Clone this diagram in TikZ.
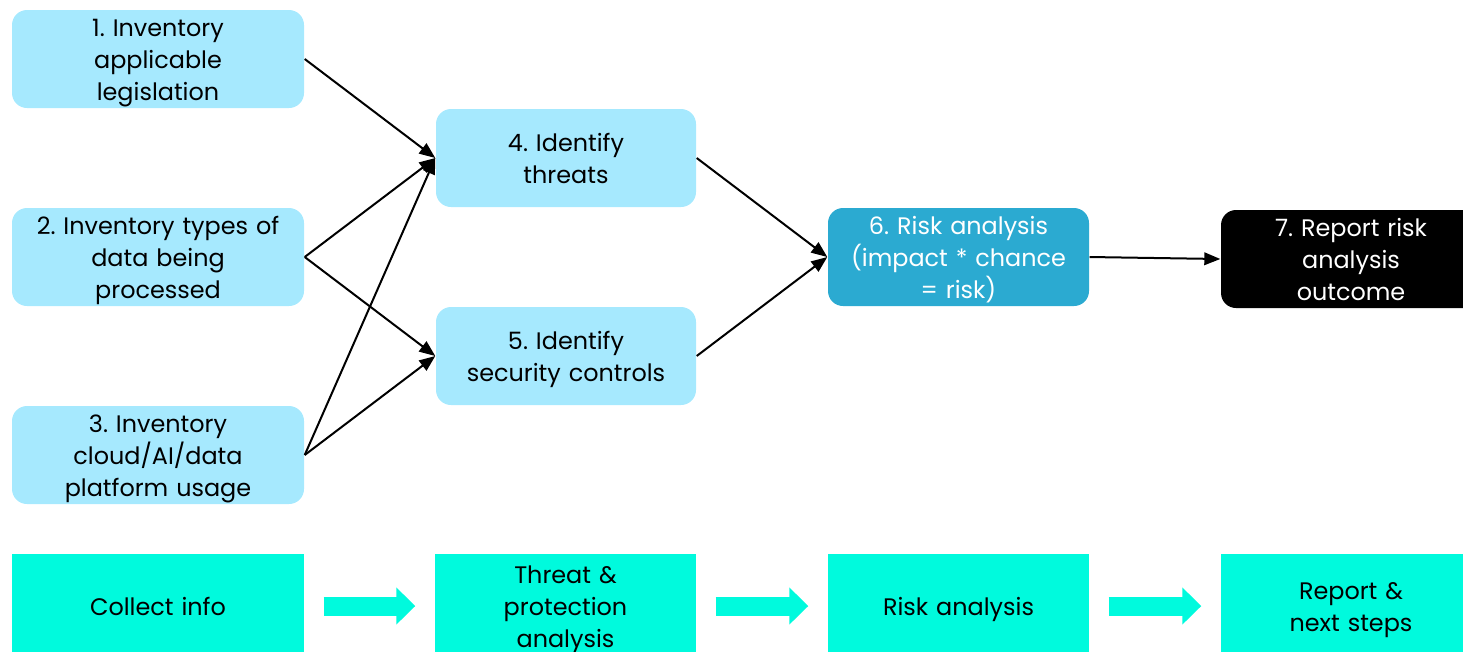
\documentclass[tikz,border=0pt]{standalone}
\usepackage{fontspec}
\setmainfont{Poppins}
\usepackage{tikz}
\usetikzlibrary{arrows.meta,positioning,calc}
\usepackage{xcolor}
\definecolor{skyfill}{HTML}{A6E9FE}
\definecolor{riskfill}{HTML}{2BAAD1}
\definecolor{phasefill}{HTML}{00FADD}

\begin{document}
\begin{tikzpicture}[x=0.1mm,y=-0.1mm,
  boxtext/.style={align=center,text width=25mm,inner sep=0pt,font=\fontsize{6.8}{9.1}\selectfont\frenchspacing,
    execute at begin node={\rule{0pt}{7.4pt}},execute at end node={\rule[-2pt]{0pt}{0pt}}},
  task/.style={boxtext,fill=skyfill,rounded corners=1.5mm,minimum height=9.8mm},
  wide/.style={minimum width=29.2mm,text width=28mm},
  phase/.style={boxtext,fill=phasefill,minimum height=10.4mm},
  flow/.style={-{Triangle[length=1.6mm,width=1.25mm]},line width=0.2mm,black},
  bigarrow/.style={-{Triangle[length=1.9mm,width=3.6mm]},line width=1.9mm,phasefill,shorten <=1.9mm,shorten >=1.9mm}
]
  \useasboundingbox (0,0) rectangle (1463,651);
  \node[task,wide] (inventorylaw) at (158,59) {1. Inventory\\applicable\\legislation};
  \node[task,wide] (inventorydata) at (158,257) {2. Inventory types of\\data being\\processed};
  \node[task,wide] (inventorycloud) at (158,455) {3. Inventory\\cloud/AI/data\\platform usage};
  \node[task,minimum width=26mm] (threats) at (566,158) {4. Identify\\threats};
  \node[task,minimum width=26mm] (controls) at (566,356) {5. Identify\\security controls};
  \node[task,fill=riskfill,text=white,minimum width=26.1mm] (risk) at (958.5,257) {6. Risk analysis\\(impact * chance\\= risk)};
  \node[task,fill=black,text=white,minimum width=26mm] (report) at (1351,259) {7. Report risk\\analysis\\outcome};
  \draw[flow] (inventorylaw.east) -- (threats.west);
  \draw[flow] (inventorydata.east) -- (threats.west);
  \draw[flow] (inventorydata.east) -- (controls.west);
  \draw[flow] (inventorycloud.east) -- (threats.west);
  \draw[flow] (inventorycloud.east) -- (controls.west);
  \draw[flow] (threats.east) -- (risk.west);
  \draw[flow] (controls.east) -- (risk.west);
  \draw[flow] (risk.east) -- (report.west);
  % phases along the bottom
  \node[phase,wide] (collect) at (158,606) {Collect info};
  \node[phase,minimum width=26.1mm] (protection) at (565.5,606) {Threat \&\\protection\\analysis};
  \node[phase,minimum width=26.1mm] (riskphase) at (958.5,606) {Risk analysis};
  \node[phase,minimum width=26mm] (nextsteps) at (1351,606) {Report \&\\next steps};
  \draw[bigarrow] (collect.east) -- (protection.west);
  \draw[bigarrow] (protection.east) -- (riskphase.west);
  \draw[bigarrow] (riskphase.east) -- (nextsteps.west);
\end{tikzpicture}
\end{document}
